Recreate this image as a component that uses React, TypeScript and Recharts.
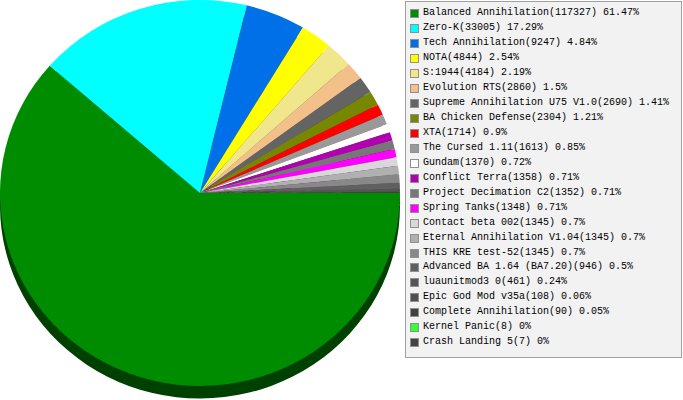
import React from 'react';
import { Cell, Pie, PieChart } from 'recharts';

const names = [
  'Balanced Annihilation',
  'Zero-K',
  'Tech Annihilation',
  'NOTA',
  'S:1944',
  'Evolution RTS',
  'Supreme Annihilation U75 V1.0',
  'BA Chicken Defense',
  'XTA',
  'The Cursed 1.11',
  'Gundam',
  'Conflict Terra',
  'Project Decimation C2',
  'Spring Tanks',
  'Contact beta 002',
  'Eternal Annihilation V1.04',
  'THIS KRE test-52',
  'Advanced BA 1.64 (BA7.20)',
  'luaunitmod3 0',
  'Epic God Mod v35a',
  'Complete Annihilation',
  'Kernel Panic',
  'Crash Landing 5',
];

const counts = [
  117327, 33005, 9247, 4844, 4184, 2860, 2690, 2304, 1714, 1613, 1370, 1358, 1352, 1348, 1345, 1345,
  1345, 946, 461, 108, 90, 8, 7,
];

const shares = [
  '61.47%', '17.29%', '4.84%', '2.54%', '2.19%', '1.5%', '1.41%', '1.21%', '0.9%', '0.85%', '0.72%',
  '0.71%', '0.71%', '0.71%', '0.7%', '0.7%', '0.7%', '0.5%', '0.24%', '0.06%', '0.05%', '0%', '0%',
];

const colors = [
  '#008c00', '#00ffff', '#0070e8', '#ffff00', '#f0e68c', '#f4c08a', '#646464', '#778800', '#ff0000',
  '#999999', '#ffffff', '#b000b0', '#777777', '#ff00ff', '#d8d8d8', '#b0b0b0', '#888888', '#606060',
  '#555555', '#505050', '#404040', '#33ff33', '#444444',
];

// side wall of the "3d" pie: same slices, darker
function darken(hex: string) {
  const n = parseInt(hex.slice(1), 16);
  const f = (v: number) => Math.round(v * 0.46).toString(16).padStart(2, '0');
  return `#${f((n >> 16) & 255)}${f((n >> 8) & 255)}${f(n & 255)}`;
}

const data = names.map((name, i) => ({ name, value: counts[i] }));

export default function App() {
  return (
    <div style={{ position: 'absolute', left: 0, top: 0, width: 683, height: 400, background: '#fff', overflow: 'hidden' }}>
      <div style={{ position: 'absolute', left: 0, top: 0, transform: 'scaleY(0.965)', transformOrigin: '0 0' }}>
        <PieChart width={402} height={416} margin={{ top: 0, right: 0, bottom: 0, left: 0 }}>
          <Pie
            data={data}
            dataKey="value"
            cx={200}
            cy={213}
            outerRadius={200}
            startAngle={0}
            endAngle={-360}
            stroke="none"
            isAnimationActive={false}
          >
            {data.map((d, i) => (
              <Cell key={`s-${d.name}`} fill={darken(colors[i])} />
            ))}
          </Pie>
          <Pie
            data={data}
            dataKey="value"
            cx={200}
            cy={200}
            outerRadius={200}
            startAngle={0}
            endAngle={-360}
            stroke="none"
            isAnimationActive={false}
          >
            {data.map((d, i) => (
              <Cell key={`t-${d.name}`} fill={colors[i]} />
            ))}
          </Pie>
        </PieChart>
      </div>
      <div
        style={{
          position: 'absolute',
          left: 405,
          top: 1,
          width: 275,
          height: 351,
          border: '1px solid #a0a0a0',
          background: '#f2f2f2',
          boxSizing: 'content-box',
          paddingTop: 4,
          fontFamily: '"Liberation Mono", "DejaVu Sans Mono", monospace',
          fontSize: 10,
          color: '#000',
        }}
      >
        {names.map((name, i) => (
          <div key={name} style={{ height: 14.97, lineHeight: '14.97px', whiteSpace: 'nowrap', position: 'relative' }}>
            <span
              style={{
                position: 'absolute',
                left: 4,
                top: 3,
                width: 7,
                height: 7,
                background: colors[i],
                border: '1px solid #909090',
              }}
            />
            <span style={{ position: 'absolute', left: 17 }}>
              {`${name}(${counts[i]}) ${shares[i]}`}
            </span>
          </div>
        ))}
      </div>
    </div>
  );
}
